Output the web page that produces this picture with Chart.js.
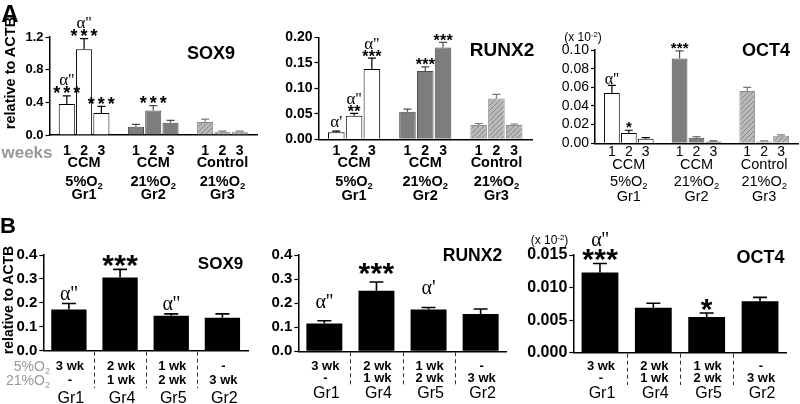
<!DOCTYPE html>
<html>
<head>
<meta charset="utf-8">
<script src="https://cdn.jsdelivr.net/npm/chart.js"></script>
<style>
  body { margin: 0; background: #fff; }
  #fig { position: relative; width: 800px; height: 404px; overflow: hidden;
         font-family: 'Liberation Sans', Arial, sans-serif; color: #000; }
  #fig canvas { position: absolute; }
  .lbl { position: absolute; transform: translate(-50%, -50%); white-space: nowrap; line-height: 1; }
  .rot { transform: translate(-50%, -50%) rotate(-90deg); }
  .right { transform: translate(-100%, -50%); }
  .grey { color: #9a9a9a; }
  sub { font-size: 65%; vertical-align: -0.3em; line-height: 0; }
  sup { font-size: 65%; vertical-align: 0.55em; line-height: 0; }
</style>
</head>
<body>
<div id="fig">
  <canvas id="sox9A"></canvas>
  <canvas id="runx2A"></canvas>
  <canvas id="oct4A"></canvas>
  <canvas id="sox9B"></canvas>
  <canvas id="runx2B"></canvas>
  <canvas id="oct4B"></canvas>

  <div class="lbl" style="left:10px;top:13.5px;font-weight:bold;font-size:24px">A</div>
  <div class="lbl rot" style="left:10px;top:73px;font-weight:bold;font-size:14.5px">relative to ACTB</div>
  <div class="lbl grey" style="left:27px;top:152px;font-weight:bold;font-size:17px">weeks</div>
  <div class="lbl" style="left:211px;top:52.5px;font-weight:bold;font-size:18px">SOX9</div>
  <div class="lbl" style="left:502px;top:49px;font-weight:bold;font-size:19px">RUNX2</div>
  <div class="lbl" style="left:766px;top:50px;font-weight:bold;font-size:18px">OCT4</div>
  <div class="lbl" style="left:583px;top:37px;font-size:12px">(x 10<sup>-2</sup>)</div>

  <div class="lbl" style="left:8px;top:225.5px;font-weight:bold;font-size:22px">B</div>
  <div class="lbl rot" style="left:8px;top:300px;font-weight:bold;font-size:14px">relative to ACTB</div>
  <div class="lbl" style="left:220.5px;top:262.5px;font-weight:bold;font-size:17px">SOX9</div>
  <div class="lbl" style="left:472.5px;top:256px;font-weight:bold;font-size:17.5px">RUNX2</div>
  <div class="lbl" style="left:760.5px;top:257px;font-weight:bold;font-size:18px">OCT4</div>
  <div class="lbl" style="left:549.5px;top:240px;font-size:12px">(x 10<sup>-2</sup>)</div>
  <div class="lbl right grey" style="left:50px;top:366px;font-size:14px">5%O<sub>2</sub></div>
  <div class="lbl right grey" style="left:50px;top:380px;font-size:14px">21%O<sub>2</sub></div>
</div>

<script>
const FONT = "'Liberation Sans', Arial, sans-serif";
const SERIF = "'Liberation Serif', 'Times New Roman', serif";

// ---------- A: week 1, 2, 3 inside each culture group ----------
const weekTicks = ['1', '2', '3', '1', '2', '3', '1', '2', '3'];
const groupLinesA = [['CCM', '5%O_2', 'Gr1'], ['CCM', '21%O_2', 'Gr2'], ['Control', '21%O_2', 'Gr3']];

const sox9A      = [0.38, 1.05, 0.27, 0.10, 0.30, 0.15, 0.16, 0.04, 0.04];
const sox9AErr   = [0.10, 0.13, 0.08, 0.03, 0.06, 0.03, 0.035, 0.008, 0.008];
const sox9AStars = ['***', '***', '***', '', '***', '', '', '', ''];
const sox9AAlpha = ["α''", "α''", '', '', '', '', '', '', ''];
const sox9ATicks = [0, 0.4, 0.8, 1.2];

const runx2A      = [0.014, 0.046, 0.138, 0.054, 0.134, 0.180, 0.028, 0.080, 0.028];
const runx2AErr   = [0.002, 0.005, 0.021, 0.005, 0.008, 0.010, 0.003, 0.008, 0.002];
const runx2AStars = ['', '**', '***', '', '***', '***', '', '', ''];
const runx2AAlpha = ["α'", "α''", "α''", '', '', '', '', '', ''];
const runx2ATicks = [0, 0.05, 0.10, 0.15, 0.20];

const oct4A      = [0.054, 0.011, 0.005, 0.091, 0.006, 0.002, 0.056, 0.002, 0.008];
const oct4AErr   = [0.008, 0.003, 0.001, 0.008, 0.001, 0.0005, 0.004, 0.0005, 0.001];
const oct4AStars = ['', '*', '', '***', '', '', '', '', ''];
const oct4AAlpha = ["α''", '', '', '', '', '', '', '', ''];
const oct4ATicks = [0, 0.02, 0.04, 0.06, 0.08, 0.10];

// ---------- B: 3 weeks split between 5% and 21% O2 ----------
const groupsB     = ['Gr1', 'Gr4', 'Gr5', 'Gr2'];
const weeksLowO2  = ['3 wk', '2 wk', '1 wk', '-'];
const weeksHighO2 = ['-', '1 wk', '2 wk', '3 wk'];

const sox9B      = [0.172, 0.306, 0.146, 0.138];
const sox9BErr   = [0.025, 0.034, 0.008, 0.016];
const sox9BStars = ['', '***', '', ''];
const sox9BAlpha = ["α''", '', "α''", ''];
const sox9BTicks = [0, 0.1, 0.2, 0.3, 0.4];

const runx2B      = [0.115, 0.252, 0.174, 0.155];
const runx2BErr   = [0.012, 0.036, 0.008, 0.021];
const runx2BStars = ['', '***', '', ''];
const runx2BAlpha = ["α''", '', "α'", ''];
const runx2BTicks = [0, 0.1, 0.2, 0.3, 0.4];

const oct4B      = [0.0123, 0.0069, 0.0055, 0.0079];
const oct4BErr   = [0.0014, 0.0007, 0.0006, 0.0006];
const oct4BStars = ['***', '', '*', ''];
const oct4BAlpha = ["α''", '', '', ''];
const oct4BTicks = [0, 0.005, 0.010, 0.015];

// a blank slot before, between and after the three A groups
function spaced(arr, blank) {
  const out = [blank];
  for (let g = 0; g < 3; g++) out.push(...arr.slice(g * 3, g * 3 + 3), blank);
  return out;
}
function byGroup(styles) {
  return Array.from({ length: 13 }, (_, i) => styles[Math.min(2, Math.floor(i / 4))]);
}

function makeHatch() {
  const c = document.createElement('canvas');
  c.width = 5; c.height = 5;
  const h = c.getContext('2d');
  h.fillStyle = '#b9b9b9';
  h.fillRect(0, 0, 5, 5);
  h.strokeStyle = '#888888';
  h.lineWidth = 1;
  h.beginPath();
  h.moveTo(0, 5); h.lineTo(5, 0);
  h.moveTo(-1, 1); h.lineTo(1, -1);
  h.moveTo(4, 6); h.lineTo(6, 4);
  h.stroke();
  return h.createPattern(c, 'repeat');
}

// text with a "_2" style subscript, centred on (cx, cy)
function drawSub(ctx, text, cx, cy, size, weight) {
  const [main, sub] = text.split('_');
  ctx.font = `${weight} ${size}px ${FONT}`;
  const w1 = ctx.measureText(main).width;
  ctx.font = `${weight} ${size * 0.65}px ${FONT}`;
  const w2 = sub ? ctx.measureText(sub).width : 0;
  const x0 = cx - (w1 + w2) / 2;
  ctx.textAlign = 'left';
  ctx.textBaseline = 'middle';
  ctx.font = `${weight} ${size}px ${FONT}`;
  ctx.fillText(main, x0, cy);
  if (sub) {
    ctx.font = `${weight} ${size * 0.65}px ${FONT}`;
    ctx.fillText(sub, x0 + w1, cy + size * 0.3);
  }
}

// put the ink of a string centred on (x, cy)
function inkText(ctx, txt, x, cy) {
  const m = ctx.measureText(txt);
  const h = m.actualBoundingBoxAscent + m.actualBoundingBoxDescent;
  ctx.textAlign = 'center';
  ctx.textBaseline = 'alphabetic';
  ctx.fillText(txt, x, cy + h / 2 - m.actualBoundingBoxDescent);
}

function decor(p, box) {
  return {
    id: 'decor',
    afterDatasetsDraw(chart) {
      const ctx = chart.ctx, y = chart.scales.y, x = chart.scales.x;
      const bars = chart.getDatasetMeta(0).data;
      ctx.save();
      p.values.forEach((v, i) => {
        if (v == null) return;
        const bx = bars[i].x;
        const top = y.getPixelForValue(v + p.err[i]);
        ctx.strokeStyle = p.errColor[i];
        ctx.lineWidth = p.errWidth;
        ctx.beginPath();
        ctx.moveTo(bx, y.getPixelForValue(v));
        ctx.lineTo(bx, top);
        ctx.moveTo(bx - p.cap / 2, top);
        ctx.lineTo(bx + p.cap / 2, top);
        ctx.stroke();

        ctx.fillStyle = '#000';
        const n = p.stars[i].length;
        let alphaY = top - p.alphaLift;
        if (n) {
          const sy = top - p.starLift;
          ctx.font = p.starFont;
          for (let k = 0; k < n; k++) inkText(ctx, '*', bx + (k - (n - 1) / 2) * p.starStep, sy);
          alphaY = sy - p.alphaOverStars;
        }
        if (p.alpha[i]) {
          ctx.font = p.alphaFont;
          inkText(ctx, p.alpha[i], bx, alphaY);
        }
      });
      ctx.fillStyle = '#000';
      ctx.strokeStyle = '#000';
      if (p.rows) p.rows(ctx, x, box[1]);
      ctx.restore();
    }
  };
}

function rowsA(rowY, weight) {
  return (ctx, x, top) => {
    groupLinesA.forEach((lines, g) => {
      const cx = (x.getPixelForValue(1 + 4 * g) + x.getPixelForValue(3 + 4 * g)) / 2;
      lines.forEach((t, r) => drawSub(ctx, t, cx, rowY[r] - top, 14.5, weight));
    });
  };
}

function rowsB(rowY) {
  return (ctx, x, top) => {
    ctx.textAlign = 'center';
    ctx.textBaseline = 'middle';
    groupsB.forEach((g, i) => {
      const cx = x.getPixelForValue(i);
      ctx.font = `bold 13px ${FONT}`;
      ctx.fillText(weeksLowO2[i], cx + 1, rowY[0] - top);
      ctx.fillText(weeksHighO2[i], cx + 1, rowY[1] - top);
      ctx.font = `16px ${FONT}`;
      ctx.fillText(g, cx + 2, rowY[2] - top);
      if (i > 0) {
        const sx = Math.round((cx + x.getPixelForValue(i - 1)) / 2) + 0.5;
        ctx.setLineDash([4, 3]);
        ctx.lineWidth = 1;
        ctx.strokeStyle = '#333';
        ctx.beginPath();
        ctx.moveTo(sx, x.top + 1);
        ctx.lineTo(sx, rowY[3] - top);
        ctx.stroke();
        ctx.setLineDash([]);
      }
    });
  };
}

// box: canvas [left, top, width, height]; area: plot [left, top, right, bottom], page pixels
function panel(id, box, area, p) {
  const cv = document.getElementById(id);
  cv.style.left = box[0] + 'px';
  cv.style.top = box[1] + 'px';
  cv.width = box[2];
  cv.height = box[3];
  return new Chart(cv, {
    type: 'bar',
    data: {
      labels: p.labels,
      datasets: [{
        data: p.values,
        backgroundColor: p.fill,
        borderColor: p.edge,
        borderWidth: p.edgeWidth,
        barPercentage: p.barPct,
        categoryPercentage: 1
      }]
    },
    options: {
      responsive: false,
      animation: false,
      devicePixelRatio: 1,
      layout: { padding: { left: 0, top: area[1] - box[1], right: box[0] + box[2] - area[2], bottom: 0 } },
      plugins: { legend: { display: false }, tooltip: { enabled: false } },
      scales: {
        x: {
          z: 1,
          offset: p.offset,
          grid: { display: true, drawOnChartArea: false, drawTicks: false },
          border: { display: true, color: '#000', width: 1.5 },
          ticks: {
            display: p.showTicks, autoSkip: false, maxRotation: 0, minRotation: 0,
            color: '#000', font: p.xFont, padding: p.xPad
          },
          afterFit: s => { s.height = box[1] + box[3] - area[3]; }
        },
        y: {
          z: 1,
          min: 0,
          max: p.ticks[p.ticks.length - 1],
          grid: { drawOnChartArea: false, drawTicks: true, tickLength: 4, tickColor: '#000', tickWidth: 1.2 },
          border: { display: true, color: '#000', width: 1.5 },
          ticks: { autoSkip: false, color: '#000', font: p.yFont, padding: 2, callback: v => v.toFixed(p.dec) },
          afterBuildTicks: s => { s.ticks = p.ticks.map(v => ({ value: v })); },
          afterFit: s => { s.width = area[0] - box[0]; }
        }
      }
    },
    plugins: [decor(p, box)]
  });
}

const hatchFill = makeHatch();
const fillA = byGroup(['#ffffff', '#7d7d7d', hatchFill]);
const edgeA = byGroup(['#000000', '#4d4d4d', '#8a8a8a']);
const errA  = byGroup(['#000000', '#4d4d4d', '#777777']);
const labelsA = spaced(weekTicks, '');

function specA(values, err, stars, alpha, more) {
  return Object.assign({
    labels: labelsA, values: spaced(values, null), err: spaced(err, 0),
    stars: spaced(stars, ''), alpha: spaced(alpha, ''),
    fill: fillA, edge: edgeA, edgeWidth: 1, errColor: errA, errWidth: 1.2, cap: 8,
    offset: false, showTicks: true, barPct: 0.93
  }, more);
}
function specB(values, err, stars, alpha, more) {
  return Object.assign({
    labels: groupsB, values, err, stars, alpha,
    fill: '#000', edge: '#000', edgeWidth: 0, errColor: values.map(() => '#000'), errWidth: 1.6, cap: 14,
    offset: true, showTicks: false, barPct: 0.69, xFont: { size: 12 }, xPad: 0,
    yFont: { size: 15, weight: 'bold' }, dec: 1,
    starFont: `bold 30px ${FONT}`, starStep: 12, alphaFont: `20px ${SERIF}`, alphaOverStars: 16
  }, more);
}

panel('sox9A', [0, 0, 265, 202], [49.5, 37, 259.5, 135], specA(sox9A, sox9AErr, sox9AStars, sox9AAlpha, {
  ticks: sox9ATicks, dec: 1, yFont: { size: 13, weight: 'bold' }, xFont: { size: 14, weight: 'bold' }, xPad: 8,
  starFont: `bold 18px ${FONT}`, starStep: 10, starLift: 6, alphaOverStars: 10, alphaLift: 8,
  alphaFont: `17px ${SERIF}`, rows: rowsA([163, 181.7, 195], 'bold')
}));
panel('runx2A', [265, 0, 270, 202], [318.5, 37.3, 534.5, 139.3], specA(runx2A, runx2AErr, runx2AStars, runx2AAlpha, {
  ticks: runx2ATicks, dec: 2, yFont: { size: 14, weight: 'bold' }, xFont: { size: 14, weight: 'bold' }, xPad: 3,
  starFont: `bold 16px ${FONT}`, starStep: 6.5, starLift: 5, alphaOverStars: 9.5, alphaLift: 10,
  alphaFont: `17px ${SERIF}`, rows: rowsA([163.3, 181.7, 195.5], 'bold')
}));
panel('oct4A', [535, 0, 265, 202], [595, 50, 798, 143.3], specA(oct4A, oct4AErr, oct4AStars, oct4AAlpha, {
  ticks: oct4ATicks, dec: 2, yFont: { size: 14 }, xFont: { size: 14 }, xPad: 0,
  starFont: `bold 15px ${FONT}`, starStep: 6, starLift: 5, alphaOverStars: 10, alphaLift: 7,
  alphaFont: `16px ${SERIF}`, rows: rowsA([165, 181.7, 197], 'normal')
}));

panel('sox9B', [0, 202, 255, 202], [43.3, 255, 248, 350.7], specB(sox9B, sox9BErr, sox9BStars, sox9BAlpha, {
  ticks: sox9BTicks, starLift: 8, alphaLift: 10.5, rows: rowsB([366, 380, 398.5, 388])
}));
panel('runx2B', [255, 202, 262, 202], [298.3, 255, 506.7, 351.3], specB(runx2B, runx2BErr, runx2BStars, runx2BAlpha, {
  ticks: runx2BTicks, starLift: 13, alphaLift: 20, rows: rowsB([366, 378, 393.5, 385])
}));
panel('oct4B', [517, 202, 283, 202], [573.3, 255, 786.7, 352.7], specB(oct4B, oct4BErr, oct4BStars, oct4BAlpha, {
  ticks: oct4BTicks, dec: 3, yFont: { size: 16, weight: 'bold' }, starLift: 8, alphaLift: 10,
  rows: rowsB([366, 378, 393.5, 385])
}));
</script>
</body>
</html>
